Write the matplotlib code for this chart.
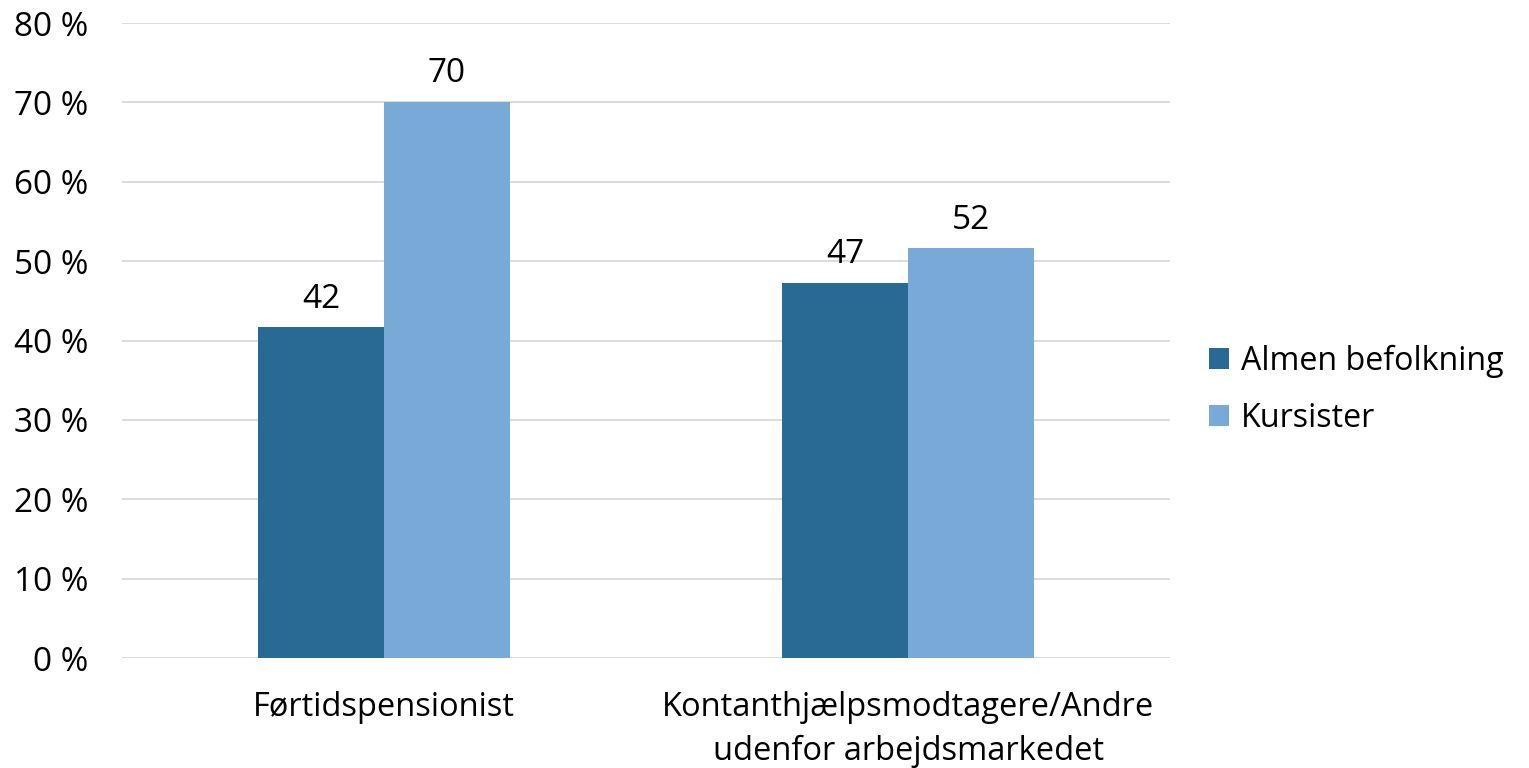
import numpy as np
import matplotlib.pyplot as plt

plt.rcParams['font.family'] = ['Open Sans', 'DejaVu Sans']

categories = ['Førtidspensionist', 'Kontanthjælpsmodtagere/Andre\nudenfor arbejdsmarkedet']
series = ['Almen befolkning', 'Kursister']
almen = [41.7, 47.3]
kursister = [70.1, 51.6]
labels_almen = ['42', '47']
labels_kurs = ['70', '52']
colors = ['#286A93', '#79AAD7']

fig = plt.figure(figsize=(15.29, 7.68), dpi=100)
ax = fig.add_axes([0.0798, 0.1432, 0.6855, 0.8268])

x = np.arange(len(categories))
w = 0.24
b1 = ax.bar(x - w / 2, almen, w, color=colors[0], label=series[0], zorder=3)
b2 = ax.bar(x + w / 2, kursister, w, color=colors[1], label=series[1], zorder=3)

# value labels above each bar
for bars, labs in [(b1, labels_almen), (b2, labels_kurs)]:
    for rect, lab in zip(bars, labs):
        ax.annotate(lab, (rect.get_x() + rect.get_width() / 2, rect.get_height()),
                    xytext=(0, 14), textcoords='offset points',
                    ha='center', va='baseline', fontsize=24)

ax.set_xlim(-0.5, 1.5)
ax.set_ylim(0, 80)
ax.set_yticks(np.arange(0, 81, 10))
ax.set_yticklabels([f'{v} %' for v in range(0, 81, 10)], fontsize=24)
ax.set_xticks(x)
ax.set_xticklabels(categories, fontsize=23.5, linespacing=1.4)
ax.tick_params(length=0)
ax.tick_params(axis='x', pad=24)
ax.tick_params(axis='y', pad=24)
ax.grid(axis='y', color='#D9D9D9', linewidth=1.3, zorder=0)
for s in ax.spines.values():
    s.set_visible(False)

ax.legend(loc='center left', bbox_to_anchor=(1.022, 0.422), frameon=False,
          fontsize=23.2, handlelength=0.62, handleheight=0.62, handletextpad=0.35,
          labelspacing=0.75, borderpad=0)

fig.savefig('out.png', dpi=100)
